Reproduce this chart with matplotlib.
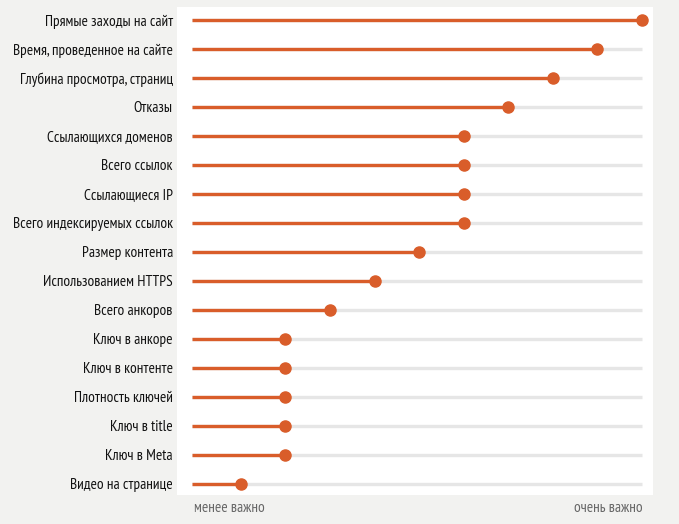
import numpy as np
import matplotlib.pyplot as plt

labels = [
    'Прямые заходы на сайт',
    'Время, проведенное на сайте',
    'Глубина просмотра, страниц',
    'Отказы',
    'Ссылающихся доменов',
    'Всего ссылок',
    'Ссылающиеся IP',
    'Всего индексируемых ссылок',
    'Размер контента',
    'Использованием HTTPS',
    'Всего анкоров',
    'Ключ в анкоре',
    'Ключ в контенте',
    'Плотность ключей',
    'Ключ в title',
    'Ключ в Meta',
    'Видео на странице',
]
values = [10, 9, 8, 7, 6, 6, 6, 6, 5, 4, 3, 2, 2, 2, 2, 2, 1]
x_start = -0.1
x_end = 10.0

orange = '#d95d2a'
track = '#e6e6e6'

plt.rcParams['font.family'] = ['PT Sans Narrow', 'DejaVu Sans']

fig = plt.figure(figsize=(6.79, 5.24), dpi=100)
fig.patch.set_facecolor('#f2f2f0')
ax = fig.add_axes([177/679, 29/524, 476/679, 488/524])
ax.set_facecolor('white')

y = np.arange(len(labels))
ax.hlines(y, x_start, x_end, color=track, lw=2.4, zorder=1)
ax.hlines(y, x_start, values, color=orange, lw=2.4, zorder=2)
ax.plot(values, y, 'o', color=orange, ms=8, zorder=3)

ax.set_xlim(-0.435, 10.25)
ax.set_ylim(16.38, -0.448)
ax.set_yticks(y)
ax.set_yticklabels(labels, fontsize=11, color='#111111')
ax.tick_params(axis='y', length=0, pad=3)
ax.set_xticks([])
for s in ax.spines.values():
    s.set_visible(False)

fig.text(194/679, 1 - 508/524, 'менее важно', ha='left', va='center',
         fontsize=11, color='#666666')
fig.text(643/679, 1 - 508/524, 'очень важно', ha='right', va='center',
         fontsize=11, color='#666666')

fig.savefig('out.png', dpi=100, facecolor=fig.get_facecolor())
